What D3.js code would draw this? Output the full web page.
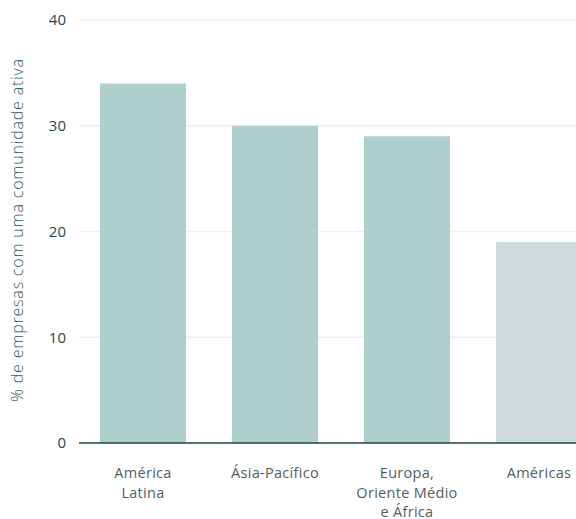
<!DOCTYPE html>
<html><head><meta charset="utf-8">
<script src="https://cdn.jsdelivr.net/npm/d3@7"></script>
<style>html,body{margin:0;padding:0;background:#fff;}</style>
</head><body>
<svg id="c" width="576" height="519"></svg>
<script>
const categories = [["América", "Latina"], ["Ásia-Pacífico"], ["Europa,", "Oriente Médio", "e África"], ["Américas"]];
const values = [34, 30, 29, 19];
const barColors = ["#aecfcc", "#aecfcc", "#aecfcc", "#d1dbdc"];
const yTicks = [0, 10, 20, 30, 40];
const yTitle = "% de empresas com uma comunidade ativa";

const svg = d3.select("#c");
const font = "'Open Sans', sans-serif";
const y = d3.scaleLinear().domain([0, 40]).range([443, 20]);
const x = d3.scaleBand().domain(d3.range(categories.length)).range([54, 628]).paddingInner(0.3485).paddingOuter(0.3485);

svg.append("g").selectAll("line").data(yTicks.filter(d => d > 0)).join("line")
  .attr("x1", 79).attr("x2", 576).attr("y1", d => y(d)).attr("y2", d => y(d))
  .attr("stroke", "#f1eeec").attr("stroke-width", 1.5);

svg.append("g").selectAll("rect").data(values).join("rect")
  .attr("x", (d, i) => x(i)).attr("width", x.bandwidth())
  .attr("y", d => y(d)).attr("height", d => y(0) - y(d))
  .attr("fill", (d, i) => barColors[i]);

svg.append("line").attr("x1", 79).attr("x2", 576).attr("y1", y(0)).attr("y2", y(0))
  .attr("stroke", "#1c4448").attr("stroke-width", 1.5);

svg.append("g").selectAll("text").data(yTicks).join("text")
  .attr("x", 66).attr("y", d => y(d)).attr("dy", "0.35em")
  .attr("text-anchor", "end").attr("font-family", font).attr("font-size", 15)
  .attr("fill", "#1d4a50").text(d => d);

const xl = svg.append("g").selectAll("text").data(categories).join("text")
  .attr("x", (d, i) => x(i) + x.bandwidth() / 2).attr("y", 478)
  .attr("text-anchor", "middle").attr("font-family", font).attr("font-size", 14.5)
  .attr("letter-spacing", 0.3)
  .attr("fill", "#4f5e60");
xl.selectAll("tspan").data(d => d).join("tspan")
  .attr("x", function () { return d3.select(this.parentNode).attr("x"); })
  .attr("dy", (d, i) => i === 0 ? 0 : 19.5).text(d => d);

svg.append("text").attr("transform", "translate(23,230) rotate(-90)")
  .attr("text-anchor", "middle").attr("font-family", font).attr("font-size", 16)
  .attr("font-weight", 300).attr("letter-spacing", 0.8)
  .attr("fill", "#2b5a5f").text(yTitle);
</script>
</body></html>
